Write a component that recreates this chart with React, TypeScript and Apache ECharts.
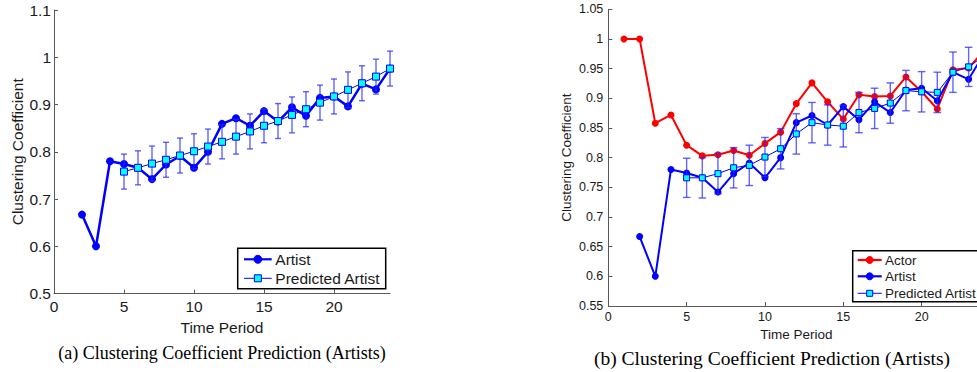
import React, { useEffect, useRef } from "react";
import * as echarts from "echarts";

// ---- data ----
const artistT = [2, 3, 4, 5, 6, 7, 8, 9, 10, 11, 12, 13, 14, 15, 16, 17, 18, 19, 20, 21, 22, 23, 24];
const artistValues = [0.667, 0.600, 0.780, 0.774, 0.766, 0.742, 0.773, 0.791, 0.766, 0.800, 0.859, 0.871, 0.855, 0.886, 0.864, 0.894, 0.876, 0.914, 0.917, 0.896, 0.944, 0.932, 0.976];

const predT = [5, 6, 7, 8, 9, 10, 11, 12, 13, 14, 15, 16, 17, 18, 19, 20, 21, 22, 23, 24];
const predLeftValues = [0.758, 0.766, 0.775, 0.783, 0.792, 0.801, 0.811, 0.821, 0.832, 0.843, 0.855, 0.865, 0.878, 0.890, 0.904, 0.917, 0.931, 0.945, 0.959, 0.976];
const predLeftErr = [0.037, 0.036, 0.037, 0.037, 0.037, 0.037, 0.037, 0.036, 0.037, 0.037, 0.036, 0.037, 0.038, 0.037, 0.037, 0.037, 0.038, 0.037, 0.037, 0.037];

const predRightValues = [0.766, 0.766, 0.773, 0.783, 0.787, 0.801, 0.815, 0.840, 0.859, 0.855, 0.853, 0.876, 0.883, 0.892, 0.913, 0.911, 0.910, 0.944, 0.953, 0.972];
const predRightErr = [0.033, 0.034, 0.034, 0.034, 0.034, 0.033, 0.034, 0.034, 0.034, 0.034, 0.035, 0.034, 0.034, 0.034, 0.034, 0.034, 0.034, 0.034, 0.033, 0.034];

const actorT = [1, 2, 3, 4, 5, 6, 7, 8, 9, 10, 11, 12, 13, 14, 15, 16, 17, 18, 19, 20, 21, 22, 23, 24];
const actorValues = [1.000, 1.000, 0.858, 0.872, 0.821, 0.803, 0.805, 0.812, 0.804, 0.824, 0.843, 0.891, 0.926, 0.894, 0.865, 0.906, 0.903, 0.904, 0.936, 0.911, 0.882, 0.948, 0.951, 0.981];

const legendLeft = ["Artist", "Predicted Artist"];
const legendRight = ["Actor", "Artist", "Predicted Artist"];
const captions = ["(a) Clustering Coefficient Prediction (Artists)", "(b) Clustering Coefficient Prediction (Artists)"];
const xTitle = "Time Period";
const yTitle = "Clustering Coefficient";

const SANS = "'Liberation Sans', Arial, Helvetica, sans-serif";
const SERIF = "'Liberation Serif', 'Times New Roman', serif";
const BLUE = "#0000ff";
const RED = "#ff0000";
const CYAN = "#00ffff";
const ERR = "rgba(40,40,255,0.72)";
const AXIS = "#5a5a5a";
const TXT = "#1a1a1a";

const pairs = (xs: number[], ys: number[]) => xs.map((x, i) => [x, ys[i]]);
const errData = (xs: number[], ys: number[], es: number[]) => xs.map((x, i) => [x, ys[i] - es[i], ys[i] + es[i]]);

function errorRender(cap: number) {
  return (params: any, api: any) => {
    const x = api.value(0);
    const lo = api.coord([x, api.value(1)]);
    const hi = api.coord([x, api.value(2)]);
    const st = { stroke: ERR, lineWidth: 1.4 };
    return {
      type: "group",
      children: [
        { type: "line", shape: { x1: hi[0], y1: hi[1], x2: lo[0], y2: lo[1] }, style: st },
        { type: "line", shape: { x1: hi[0] - cap, y1: hi[1], x2: hi[0] + cap, y2: hi[1] }, style: st },
        { type: "line", shape: { x1: lo[0] - cap, y1: lo[1], x2: lo[0] + cap, y2: lo[1] }, style: st },
      ],
    };
  };
}

function xAxisCfg(gridIndex: number, fs: number, nameFs: number, gap: number, margin: number) {
  return {
    type: "value", gridIndex, min: 0, max: 24, interval: 5,
    name: xTitle, nameLocation: "middle", nameGap: gap,
    nameTextStyle: { fontFamily: SANS, fontSize: nameFs, color: TXT },
    axisLine: { show: true, onZero: false, lineStyle: { color: AXIS, width: 1 } },
    axisTick: { show: true, inside: true, length: 4, lineStyle: { color: AXIS } },
    axisLabel: { fontFamily: SANS, fontSize: fs, color: TXT, margin, showMaxLabel: false },
    splitLine: { show: false },
  };
}

function yAxisCfg(gridIndex: number, min: number, max: number, interval: number, fs: number, nameFs: number, gap: number, margin: number) {
  return {
    type: "value", gridIndex, min, max, interval,
    name: yTitle, nameLocation: "middle", nameGap: gap,
    nameTextStyle: { fontFamily: SANS, fontSize: nameFs, color: TXT },
    axisLine: { show: true, onZero: false, lineStyle: { color: AXIS, width: 1 } },
    axisTick: { show: true, inside: true, length: 4, lineStyle: { color: AXIS } },
    axisLabel: { fontFamily: SANS, fontSize: fs, color: TXT, margin },
    splitLine: { show: false },
  };
}

function legendGraphic(x: number, y: number, w: number, h: number, rows: number[], items: string[], kinds: string[], fs: number, lineX1: number, lineX2: number, textX: number, r: number, sq: number) {
  const children: any[] = [
    { type: "rect", shape: { x, y, width: w, height: h }, style: { fill: "#fff", stroke: "#000", lineWidth: 1.5 }, z: 100 },
  ];
  items.forEach((name, i) => {
    const yy = rows[i];
    const k = kinds[i];
    const color = k === "actor" ? RED : BLUE;
    const cx = (lineX1 + lineX2) / 2;
    children.push({ type: "line", shape: { x1: lineX1, y1: yy, x2: lineX2, y2: yy }, style: { stroke: color, lineWidth: k === "pred" ? 1 : 2.2 }, z: 101 });
    if (k === "pred") {
      children.push({ type: "rect", shape: { x: cx - sq / 2, y: yy - sq / 2, width: sq, height: sq }, style: { fill: CYAN, stroke: BLUE, lineWidth: 1 }, z: 102 });
    } else {
      children.push({ type: "circle", shape: { cx, cy: yy, r }, style: { fill: color, stroke: color, lineWidth: 1 }, z: 102 });
    }
    children.push({ type: "text", x: textX, y: yy, style: { text: name, fontFamily: SANS, fontSize: fs, fill: TXT, verticalAlign: "middle", align: "left" }, z: 102 });
  });
  return { type: "group", children };
}

export default function App() {
  const ref = useRef<HTMLDivElement>(null);
  useEffect(() => {
    if (!ref.current) return;
    const chart = echarts.init(ref.current, undefined, { renderer: "svg" });
    const option: any = {
      animation: false,
      backgroundColor: "#fff",
      grid: [
        { left: 54, top: 10, width: 336, height: 283.5, containLabel: false },
        { left: 608.3, top: 9.3, width: 376, height: 296.7, containLabel: false },
      ],
      xAxis: [xAxisCfg(0, 15.5, 15.5, 17, 5), xAxisCfg(1, 12.5, 13.5, 14, 4)],
      yAxis: [yAxisCfg(0, 0.5, 1.1, 0.1, 15.5, 15.5, 29, 3), yAxisCfg(1, 0.55, 1.05, 0.05, 12.5, 13.5, 35, 5)],
      series: [
        {
          name: "Artist", type: "line", xAxisIndex: 0, yAxisIndex: 0,
          data: pairs(artistT, artistValues),
          symbol: "circle", symbolSize: 8,
          lineStyle: { color: BLUE, width: 2.5 }, itemStyle: { color: BLUE }, z: 3,
        },
        {
          name: "errLeft", type: "custom", xAxisIndex: 0, yAxisIndex: 0,
          data: errData(predT, predLeftValues, predLeftErr),
          encode: { x: 0, y: [1, 2] }, renderItem: errorRender(3), z: 4,
        },
        {
          name: "Predicted Artist", type: "line", xAxisIndex: 0, yAxisIndex: 0,
          data: pairs(predT, predLeftValues),
          symbol: "rect", symbolSize: 7,
          lineStyle: { color: BLUE, width: 1 }, itemStyle: { color: CYAN, borderColor: BLUE, borderWidth: 1 }, z: 5,
        },
        {
          name: "Actor", type: "line", xAxisIndex: 1, yAxisIndex: 1,
          data: pairs(actorT, actorValues),
          symbol: "circle", symbolSize: 7,
          lineStyle: { color: RED, width: 2 }, itemStyle: { color: RED }, z: 3,
        },
        {
          name: "Artist", type: "line", xAxisIndex: 1, yAxisIndex: 1,
          data: pairs(artistT, artistValues),
          symbol: "circle", symbolSize: 7,
          lineStyle: { color: BLUE, width: 2 }, itemStyle: { color: BLUE }, z: 3,
        },
        {
          name: "errRight", type: "custom", xAxisIndex: 1, yAxisIndex: 1,
          data: errData(predT, predRightValues, predRightErr),
          encode: { x: 0, y: [1, 2] }, renderItem: errorRender(3.8), z: 4,
        },
        {
          name: "Predicted Artist", type: "line", xAxisIndex: 1, yAxisIndex: 1,
          data: pairs(predT, predRightValues),
          symbol: "rect", symbolSize: 6,
          lineStyle: { color: BLUE, width: 1 }, itemStyle: { color: CYAN, borderColor: BLUE, borderWidth: 1 }, z: 5,
        },
      ],
      graphic: [
        legendGraphic(237.7, 248.3, 148, 40.4, [259.3, 278.3], legendLeft, ["artist", "pred"], 15.5, 244, 271.7, 275.3, 4, 7),
        legendGraphic(852.7, 250.7, 160, 51, [260, 276.3, 293.3], legendRight, ["actor", "artist", "pred"], 13.5, 857.7, 881.7, 885, 3.5, 6),
        { type: "text", x: 222, y: 353, style: { text: captions[0], fontFamily: SERIF, fontSize: 18, fill: "#000", align: "center", verticalAlign: "middle" } },
        { type: "text", x: 772, y: 358, style: { text: captions[1], fontFamily: SERIF, fontSize: 19.5, fill: "#000", align: "center", verticalAlign: "middle" } },
      ],
    };
    chart.setOption(option);
    return () => chart.dispose();
  }, []);
  return (
    <div style={{ position: "fixed", left: 0, top: 0, width: 977, height: 372, overflow: "hidden", background: "#fff" }}>
      <div ref={ref} style={{ width: 1010, height: 372 }} />
    </div>
  );
}
